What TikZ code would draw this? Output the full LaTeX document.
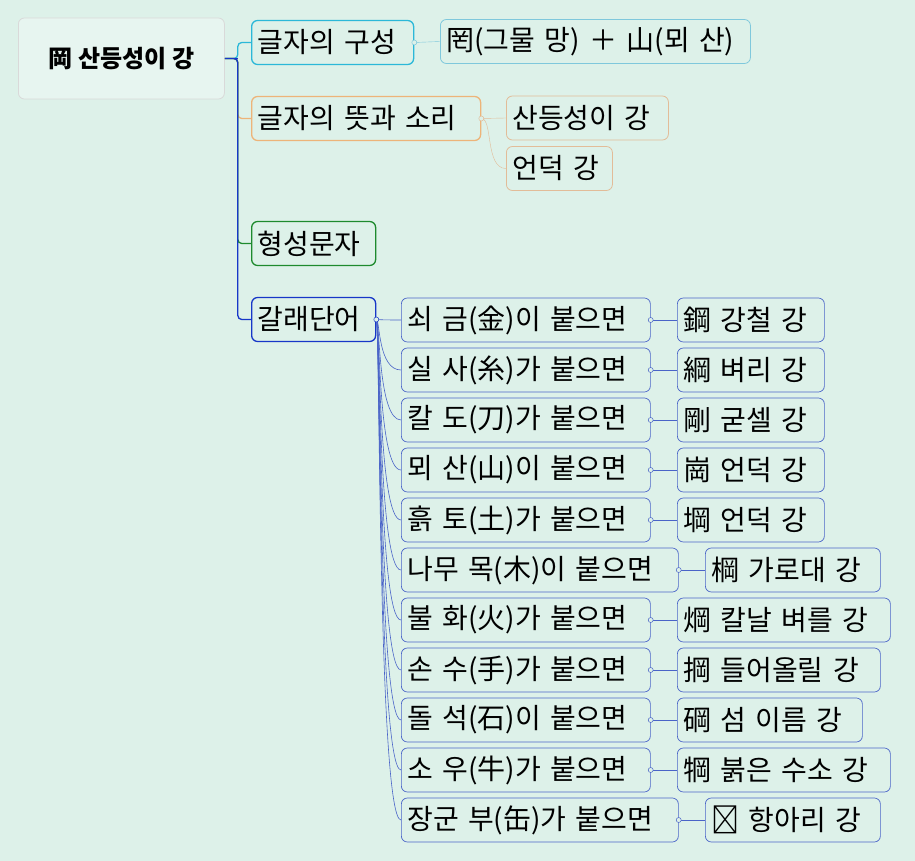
\documentclass[tikz,border=0pt]{standalone}
\usepackage{fontspec}
\setmainfont{Noto Sans CJK KR}
\definecolor{bg}{HTML}{DDF1E9}
\definecolor{cy}{HTML}{2BB8D8}
\definecolor{cyl}{HTML}{7FC8DC}
\definecolor{or}{HTML}{EDB479}
\definecolor{orl}{HTML}{E2BC98}
\definecolor{gr}{HTML}{1E8A2E}
\definecolor{bl}{HTML}{1737C8}
\definecolor{bll}{HTML}{4A64C8}
\begin{document}
\begin{tikzpicture}[x=1pt,y=-1pt,
  box/.style={draw,rounded corners=6pt,anchor=west,minimum height=44pt,inner ysep=0pt,inner xsep=6pt,font=\fontsize{28}{32}\selectfont,fill=bg,line width=0.8pt},
  wd/.style={text width=#1pt-12pt,align=left},
  dot/.style={circle,draw,fill=bg,inner sep=0pt,minimum size=5pt,line width=0.5pt}]
\fill[bg] (0,0) rectangle (915,861);
\useasboundingbox (0,0) rectangle (915,861);
% root
\node[box,draw=black!15,fill=bg!70!white,minimum width=206pt,minimum height=81pt,font=\fontsize{24}{28}\selectfont\bfseries] (r) at (18,58.5) {岡 산등성이 강};
% level 1
\node[box,draw=cy,line width=1.3pt,wd=162] (a) at (251,42.5) {글자의 구성};
\node[box,draw=or,line width=1.3pt,wd=229] (b) at (251,118.5) {글자의 뜻과 소리};
\node[box,draw=gr,line width=1.3pt,wd=124] (c) at (251,243.5) {형성문자};
\node[box,draw=bl,line width=1.3pt,wd=124] (d) at (251,319.5) {갈래단어};
\foreach \n/\col in {a/cy,b/or,c/gr,d/bl}
  \draw[\col,line width=1.3pt,rounded corners=4pt] (r.east) -- ++(13,0) |- (\n.west);
\draw[bl,line width=1.5pt] (r.east) -- ++(13,0);
% level 2 of a, b
\node[box,draw=cyl,wd=310] (a1) at (440,41.5) {罔(그물 망) ＋ 山(뫼 산)};
\draw[cyl] (a.east) -- (a1.west);
\node[dot,draw=cyl] at (a.east) {};
\node[box,draw=orl,wd=162] (b1) at (506,118) {산등성이 강};
\node[box,draw=orl,wd=106] (b2) at (506,168.5) {언덕 강};
\draw[orl] (b.east) -- (b1.west);
\draw[orl] (b.east) .. controls (493,118.5) and (485,168.5) .. (b2.west);
\node[dot,draw=orl] at (b.east) {};
% level 2 of d
\foreach \i/\t/\w/\u/\cx/\cw/\y in {
 1/쇠 금(金)이 붙으면/249/鋼 강철 강/677/147/320,
 2/실 사(糸)가 붙으면/249/綱 벼리 강/677/147/370,
 3/칼 도(刀)가 붙으면/249/剛 굳셀 강/677/147/420,
 4/뫼 산(山)이 붙으면/249/崗 언덕 강/677/147/470,
 5/흙 토(土)가 붙으면/249/堈 언덕 강/677/147/520,
 6/나무 목(木)이 붙으면/277/棡 가로대 강/705/175/570,
 7/불 화(火)가 붙으면/249/焵 칼날 벼를 강/677/213/620,
 8/손 수(手)가 붙으면/249/掆 들어올릴 강/677/203/670,
 9/돌 석(石)이 붙으면/249/碙 섬 이름 강/677/185/720,
 10/소 우(牛)가 붙으면/249/犅 붉은 수소 강/677/213/770,
 11/장군 부(缶)가 붙으면/277/𦈲 항아리 강/705/175/820}{
  \node[box,draw=bll,line width=0.7pt,wd=\w] (p\i) at (401,\y) {\t};
  \node[box,draw=bll,line width=0.7pt,wd=\cw] (q\i) at (\cx,\y) {\u};
  \draw[bll,line width=0.6pt] (d.east) .. controls (380,319.5) and (378,\y) .. (p\i.west);
  \draw[bll,line width=0.6pt] (p\i.east) -- (q\i.west);
  \node[dot,draw=bll] at (p\i.east) {};
}
\node[dot,draw=bl] at (d.east) {};
\end{tikzpicture}
\end{document}
